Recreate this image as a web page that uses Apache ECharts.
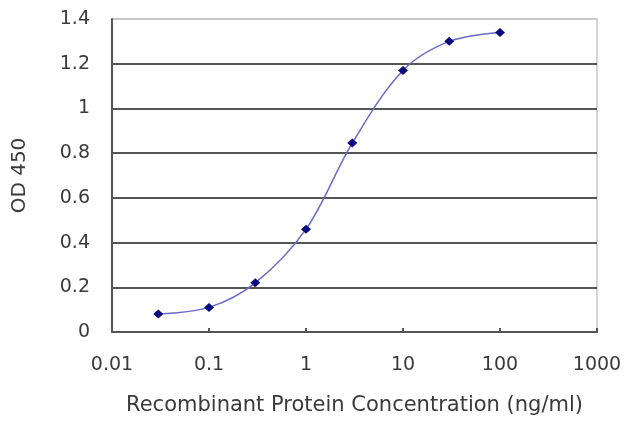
<!DOCTYPE html>
<html>
<head>
<meta charset="utf-8">
<script src="https://cdn.jsdelivr.net/npm/echarts@6/dist/echarts.min.js"></script>
<style>
  html, body { margin: 0; padding: 0; background: #fff; }
  #chart { width: 640px; height: 427px; }
</style>
</head>
<body>
<div id="chart"></div>
<script>
const concentrations = [0.03, 0.1, 0.3, 1, 3, 10, 30, 100]
const odValues = [0.08, 0.11, 0.22, 0.46, 0.845, 1.17, 1.30, 1.34]
const xTickLabels = ['0.01', '0.1', '1', '10', '100', '1000']

const chart = echarts.init(document.getElementById('chart'))

const points = concentrations.map((c, i) => [c, odValues[i]])
const labelFont = { fontFamily: 'DejaVu Sans, sans-serif', fontSize: 19, color: '#3a3a3a' }

chart.setOption({
  animation: false,
  grid: {
    left: 112,
    right: 43,
    top: 19,
    bottom: 95,
    show: true,
    borderColor: '#c8c8c8',
    borderWidth: 1.5
  },
  xAxis: {
    type: 'log',
    logBase: 10,
    min: 0.01,
    max: 1000,
    name: 'Recombinant Protein Concentration (ng/ml)',
    nameLocation: 'middle',
    nameGap: 63,
    nameTextStyle: { ...labelFont, fontSize: 21 },
    axisLine: { lineStyle: { color: '#555', width: 2 } },
    axisTick: { inside: true, length: 4, lineStyle: { color: '#555', width: 2 } },
    axisLabel: {
      ...labelFont,
      margin: 24,
      formatter: (value) => {
        const label = xTickLabels.find((t) => Math.abs(Number(t) - value) < value * 1e-6)
        return label || ''
      }
    },
    splitLine: { show: false }
  },
  yAxis: {
    type: 'value',
    min: 0,
    max: 1.4,
    interval: 0.2,
    name: 'OD 450',
    nameLocation: 'middle',
    nameGap: 82,
    nameRotate: 90,
    nameTextStyle: { ...labelFont, fontSize: 20 },
    axisLine: { show: true, lineStyle: { color: '#555', width: 2 } },
    axisTick: { show: false },
    axisLabel: {
      ...labelFont,
      margin: 22,
      formatter: (value) => String(Math.round(value * 10) / 10)
    },
    splitLine: {
      lineStyle: {
        color: ['#555', '#555', '#555', '#555', '#555', '#555', '#555', '#c8c8c8'],
        width: 2
      }
    }
  },
  series: [
    {
      type: 'line',
      data: points,
      smooth: 0.35,
      symbol: 'diamond',
      symbolSize: [10, 9],
      itemStyle: { color: '#0a0a80' },
      lineStyle: { color: '#6a6ac8', width: 1.5 }
    }
  ]
})
</script>
</body>
</html>
